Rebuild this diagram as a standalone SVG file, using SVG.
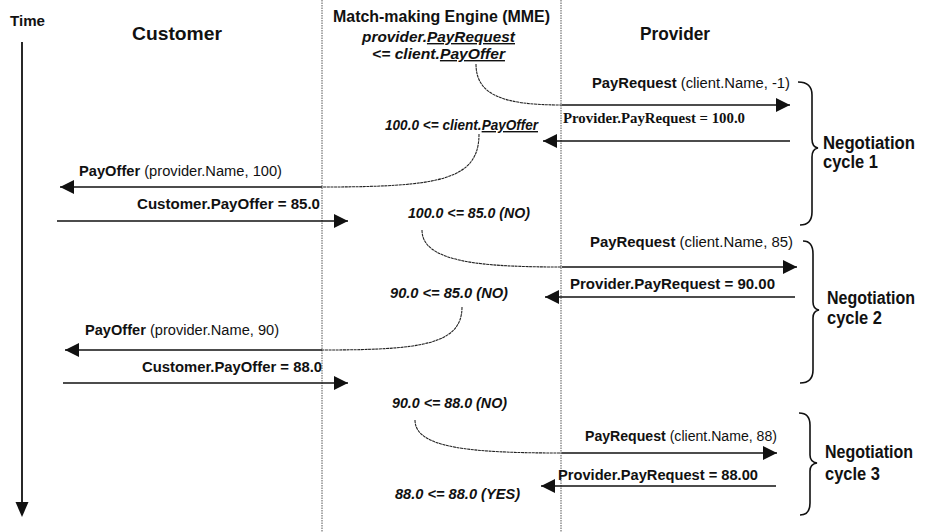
<svg xmlns="http://www.w3.org/2000/svg" width="926" height="532" viewBox="0 0 926 532">
<style>
text{font-family:"Liberation Sans",Arial,sans-serif;fill:#111;}
.hd{font-weight:bold;font-size:19px;}
.lb{font-size:14px;font-weight:normal;}
.b{font-weight:bold;}
.it{font-style:italic;font-weight:bold;font-size:14px;}
.sr{font-family:"Liberation Serif","Times New Roman",serif;font-weight:bold;font-size:14px;}
.ng{font-weight:bold;font-size:18px;}
.u{text-decoration:underline;}
.life{stroke:#555;stroke-width:1;stroke-dasharray:1.5 1;fill:none;}
.msg{stroke:#111;stroke-width:1.6;fill:none;}
.crv{stroke:#222;stroke-width:1.1;fill:none;stroke-dasharray:3 0.6;}
.br{stroke:#111;stroke-width:1.6;fill:none;}
</style>
<defs>
<marker id="ah" markerUnits="userSpaceOnUse" markerWidth="14" markerHeight="14" refX="14" refY="7" orient="auto">
<path d="M0,0 L14,7 L0,14 z" fill="#111"/>
</marker>
</defs>
<rect width="926" height="532" fill="#fff"/>

<g id="lifelines">
<line class="life" x1="322" y1="0" x2="322" y2="532"/>
<line class="life" x1="561" y1="0" x2="561" y2="532"/>
</g>

<g id="time">
<text class="b" x="10" y="26" font-size="15" textLength="35" lengthAdjust="spacingAndGlyphs">Time</text>
<line x1="22" y1="42" x2="22" y2="505" stroke="#111" stroke-width="1.8"/>
<path d="M15.5,502 L28.5,502 L22,517 z" fill="#111"/>
</g>

<g id="customer">
<text class="hd" x="132" y="40" textLength="90" lengthAdjust="spacingAndGlyphs">Customer</text>
</g>

<g id="mme">
<text class="b" x="333" y="22" font-size="16" textLength="217" lengthAdjust="spacingAndGlyphs">Match-making Engine (MME)</text>
<text class="it" x="362" y="42" textLength="153" lengthAdjust="spacingAndGlyphs">provider.<tspan class="u">PayRequest</tspan></text>
<text class="it" x="372" y="59" textLength="133" lengthAdjust="spacingAndGlyphs">&lt;= client.<tspan class="u">PayOffer</tspan></text>
</g>

<g id="provider">
<text class="hd" x="640" y="40" textLength="70" lengthAdjust="spacingAndGlyphs">Provider</text>
</g>

<g id="connectors">
<path class="crv" d="M476,64 C476,96 505,105 562,105"/>
<line class="msg" x1="562" y1="105" x2="790" y2="105" marker-end="url(#ah)"/>
<line class="msg" x1="790" y1="141" x2="543" y2="141" marker-end="url(#ah)"/>
<path class="crv" d="M479,134 C479,180 440,187 322,187"/>
<line class="msg" x1="322" y1="187" x2="60" y2="187" marker-end="url(#ah)"/>
<line class="msg" x1="57" y1="221" x2="348" y2="221" marker-end="url(#ah)"/>
<path class="crv" d="M422,230 C422,262 480,267 562,267"/>
<line class="msg" x1="562" y1="267" x2="797" y2="267" marker-end="url(#ah)"/>
<line class="msg" x1="795" y1="297" x2="545" y2="297" marker-end="url(#ah)"/>
<path class="crv" d="M462,307 C462,345 420,350 322,350"/>
<line class="msg" x1="322" y1="350" x2="65" y2="350" marker-end="url(#ah)"/>
<line class="msg" x1="63" y1="383" x2="348" y2="383" marker-end="url(#ah)"/>
<path class="crv" d="M415,420 C415,448 470,453 562,453"/>
<line class="msg" x1="562" y1="453" x2="777" y2="453" marker-end="url(#ah)"/>
<line class="msg" x1="776" y1="486" x2="541" y2="486" marker-end="url(#ah)"/>
</g>

<g id="labels">
<text class="lb" x="592" y="88" textLength="198" lengthAdjust="spacingAndGlyphs"><tspan class="b">PayRequest</tspan> (client.Name, -1)</text>
<text class="sr" x="563" y="123" textLength="182" lengthAdjust="spacingAndGlyphs">Provider.PayRequest = 100.0</text>
<text class="it" x="385" y="130" textLength="153" lengthAdjust="spacingAndGlyphs">100.0 &lt;= client.<tspan class="u">PayOffer</tspan></text>
<text class="lb" x="79" y="176" textLength="203" lengthAdjust="spacingAndGlyphs"><tspan class="b">PayOffer</tspan> (provider.Name, 100)</text>
<text class="lb b" x="137" y="209" textLength="183" lengthAdjust="spacingAndGlyphs">Customer.PayOffer = 85.0</text>
<text class="it" x="408" y="218" textLength="122" lengthAdjust="spacingAndGlyphs">100.0 &lt;= 85.0 (NO)</text>
<text class="lb" x="590" y="247" textLength="203" lengthAdjust="spacingAndGlyphs"><tspan class="b">PayRequest</tspan> (client.Name, 85)</text>
<text class="lb b" x="570" y="289" textLength="205" lengthAdjust="spacingAndGlyphs">Provider.PayRequest = 90.00</text>
<text class="it" x="390" y="298" textLength="118" lengthAdjust="spacingAndGlyphs">90.0 &lt;= 85.0 (NO)</text>
<text class="lb" x="85" y="335" textLength="194" lengthAdjust="spacingAndGlyphs"><tspan class="b">PayOffer</tspan> (provider.Name, 90)</text>
<text class="lb b" x="142" y="372" textLength="180" lengthAdjust="spacingAndGlyphs">Customer.PayOffer = 88.0</text>
<text class="it" x="392" y="408" textLength="115" lengthAdjust="spacingAndGlyphs">90.0 &lt;= 88.0 (NO)</text>
<text class="lb" x="585" y="441" textLength="192" lengthAdjust="spacingAndGlyphs"><tspan class="b">PayRequest</tspan> (client.Name, 88)</text>
<text class="lb b" x="558" y="480" textLength="200" lengthAdjust="spacingAndGlyphs">Provider.PayRequest = 88.00</text>
<text class="it" x="395" y="499" textLength="125" lengthAdjust="spacingAndGlyphs">88.0 &lt;= 88.0 (YES)</text>
</g>

<g id="cycle1">
<path class="br" d="M798,82 Q812,82 812,95 L812,139 Q812,147 818,148 Q812,149 812,157 L812,212 Q812,225 800,225"/>
<text class="ng" x="823" y="149" textLength="92" lengthAdjust="spacingAndGlyphs">Negotiation</text>
<text class="ng" x="823" y="168" textLength="55" lengthAdjust="spacingAndGlyphs">cycle 1</text>
</g>

<g id="cycle2">
<path class="br" d="M803,241 Q813,241 813,254 L813,302 Q813,309 819,310 Q813,311 813,318 L813,370 Q813,383 800,383"/>
<text class="ng" x="827" y="304" textLength="88" lengthAdjust="spacingAndGlyphs">Negotiation</text>
<text class="ng" x="827" y="324" textLength="55" lengthAdjust="spacingAndGlyphs">cycle 2</text>
</g>

<g id="cycle3">
<path class="br" d="M799,413 Q810,413 810,425 L810,455 Q810,462 817,463 Q810,464 810,471 L810,503 Q810,515 800,515"/>
<text class="ng" x="825" y="458" textLength="88" lengthAdjust="spacingAndGlyphs">Negotiation</text>
<text class="ng" x="825" y="480" textLength="55" lengthAdjust="spacingAndGlyphs">cycle 3</text>
</g>
</svg>
